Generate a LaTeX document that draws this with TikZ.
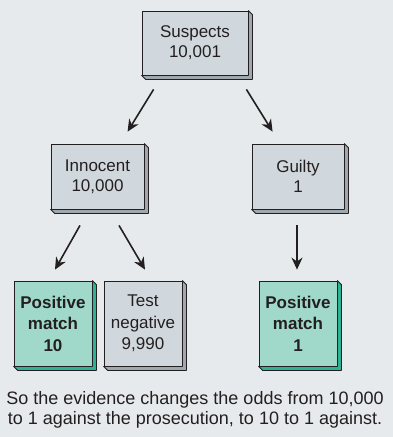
\documentclass[tikz,border=0pt]{standalone}
\usepackage{fontspec}
\setmainfont{Liberation Sans}
\usetikzlibrary{arrows.meta}
\definecolor{bg}{HTML}{E7EAEC}
\definecolor{greyface}{HTML}{D1D8DD}
\definecolor{greyside}{HTML}{9EA8AE}
\definecolor{tealface}{HTML}{A0D9C9}
\definecolor{tealside}{HTML}{2DB394}
\definecolor{ink}{HTML}{231F20}
\newcommand\bevelshade[2]{%
  \path[fill=#2,draw=ink,line width=0.8pt,line join=round]
    (#1.north east) -- ++(4,4) -- ([shift={(4,4)}]#1.south east)
    -- ([shift={(4,4)}]#1.south west) -- (#1.south west)
    -- (#1.south east) -- cycle;}
\tikzset{
  facebox/.style={draw=ink, line width=0.8pt, align=center, inner sep=0pt,
    text=ink, font=\fontsize{17}{20}\selectfont},
  greybox/.style={facebox, fill=greyface},
  tealbox/.style={facebox, fill=tealface, font=\fontsize{17}{21.5}\selectfont\bfseries},
  arr/.style={draw=ink, line width=1.6pt, -{Stealth[length=12pt,width=11pt]}},
  note/.style={align=center, text=ink, font=\fontsize{18}{20}\selectfont, inner sep=0pt}
}
\begin{document}
\begin{tikzpicture}[x=1pt,y=-1pt]
\useasboundingbox[fill=bg] (0,0) rectangle (393,437);
% level 1
\node[greybox, minimum width=106pt, minimum height=64pt] (S) at (195,43) {Suspects\\10,001};
\bevelshade{S}{greyside}
% level 2
\node[greybox, minimum width=93pt, minimum height=65pt] (I) at (97.5,176.5) {Innocent\\10,000};
\bevelshade{I}{greyside}
\node[greybox, minimum width=92pt, minimum height=65pt] (G) at (298,176.5) {Guilty\\1};
\bevelshade{G}{greyside}
% level 3
\node[tealbox, minimum width=78pt, minimum height=85pt] (P1) at (53,323.5) {Positive\\match\\10};
\bevelshade{P1}{tealside}
\node[greybox, font=\fontsize{17}{21.5}\selectfont, minimum width=78pt, minimum height=85pt] (T) at (143,323.5) {Test\\negative\\9,990};
\bevelshade{T}{greyside}
\node[tealbox, minimum width=78pt, minimum height=85pt] (P2) at (298,323.5) {Positive\\match\\1};
\bevelshade{P2}{tealside}
% connectors
\draw[arr] ([shift={(12,14)}]S.south west) -- ([shift={(77,-12)}]I.north west);
\draw[arr] ([shift={(-2,14)}]S.south east) -- ([shift={(21,-12)}]G.north west);
\draw[arr] ([shift={(-17.5,16)}]I.south) -- ([shift={(2,-11)}]P1.north);
\draw[arr] ([shift={(21.5,16)}]I.south) -- ([shift={(2,-11)}]T.north);
\draw[arr] ([shift={(-1,16)}]G.south) -- ([shift={(-1,-11)}]P2.north);
% caption
\node[note] (C) at (195,410) {So the evidence changes the odds from 10,000\\to 1 against the prosecution, to 10 to 1 against.};
\end{tikzpicture}
\end{document}
